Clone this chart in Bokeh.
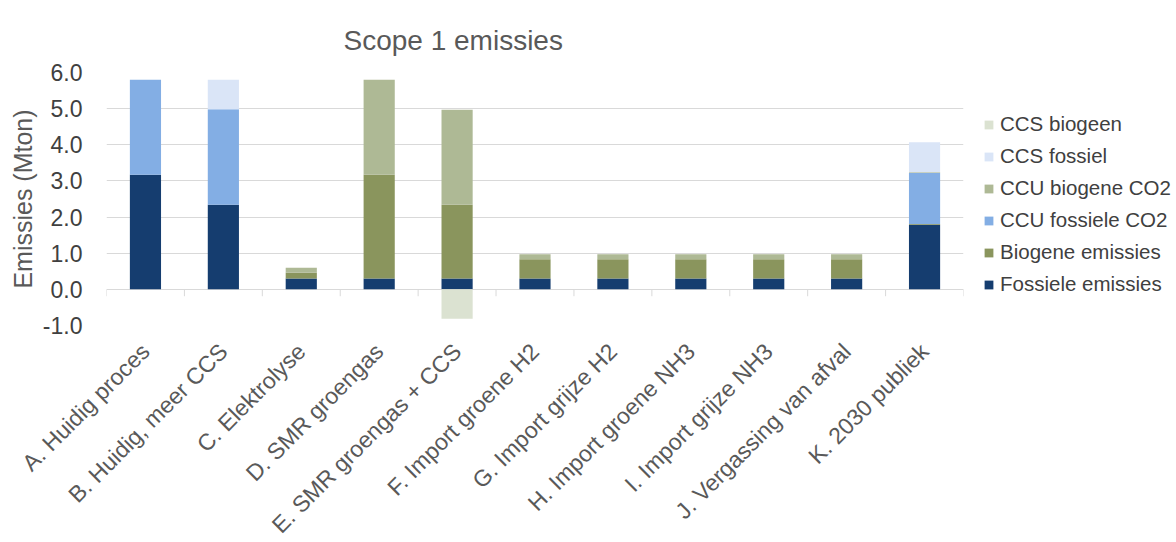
import math
from bokeh.plotting import figure
from bokeh.models import (ColumnDataSource, FactorRange, Range1d, Legend, LegendItem,
                          PrintfTickFormatter, SingleIntervalTicker)
from bokeh.transform import dodge
from bokeh.embed import file_html
from bokeh.resources import INLINE

categories = ["A. Huidig proces", "B. Huidig, meer CCS", "C. Elektrolyse", "D. SMR groengas",
              "E. SMR groengas + CCS", "F. Import groene H2", "G. Import grijze H2",
              "H. Import groene NH3", "I. Import grijze NH3", "J. Vergassing van afval",
              "K. 2030 publiek"]
fossiele_emissies = [3.17, 2.34, 0.30, 0.30, 0.30, 0.30, 0.30, 0.30, 0.30, 0.30, 1.79]
biogene_emissies = [0.00, 0.00, 0.16, 2.87, 2.04, 0.53, 0.53, 0.53, 0.53, 0.53, 0.02]
ccu_fossiele_co2 = [2.63, 2.64, 0.00, 0.00, 0.00, 0.00, 0.00, 0.00, 0.00, 0.00, 1.41]
ccu_biogene_co2 = [0.00, 0.00, 0.14, 2.63, 2.63, 0.14, 0.14, 0.14, 0.14, 0.14, 0.02]
ccs_fossiel = [0.00, 0.82, 0.00, 0.00, 0.00, 0.00, 0.00, 0.00, 0.00, 0.00, 0.83]
ccs_biogeen = [0.00, 0.00, 0.00, 0.00, -0.81, 0.00, 0.00, 0.00, 0.00, 0.00, 0.00]

series_names = ["Fossiele emissies", "Biogene emissies", "CCU fossiele CO2",
                "CCU biogene CO2", "CCS fossiel", "CCS biogeen"]
series_values = [fossiele_emissies, biogene_emissies, ccu_fossiele_co2,
                 ccu_biogene_co2, ccs_fossiel, ccs_biogeen]
series_colors = ["#153D6F", "#8A955D", "#83AEE4", "#AEB995", "#DAE5F7", "#DBE2D1"]

FONT = "Liberation Sans"

p = figure(x_range=FactorRange(*categories), y_range=Range1d(-1, 6),
           frame_width=857, frame_height=253,
           min_border_left=106, min_border_right=207, min_border_top=72, min_border_bottom=217,
           output_backend="svg", toolbar_location=None, title="Scope 1 emissies")
p.outline_line_color = None
p.background_fill_color = "white"
p.border_fill_color = "white"
p.xgrid.grid_line_color = None
p.ygrid.grid_line_color = "#D9D9D9"
p.ygrid.grid_line_width = 1

n = len(categories)
pos = [0.0] * n
neg = [0.0] * n
renderers = []
for name, vals, color in zip(series_names, series_values, series_colors):
    bottom, top = [], []
    for i, v in enumerate(vals):
        if v >= 0:
            bottom.append(pos[i]); pos[i] += v; top.append(pos[i])
        else:
            top.append(neg[i]); neg[i] += v; bottom.append(neg[i])
    src = ColumnDataSource(dict(x=categories, bottom=bottom, top=top))
    r = p.vbar(x="x", bottom="bottom", top="top", width=0.4, source=src,
               fill_color=color, line_color=None)
    renderers.append((name, r))

# category boundary tick marks on the zero line
tick_src = ColumnDataSource(dict(x=categories, y0=[0] * n, y1=[-0.19] * n))
p.segment(x0=dodge("x", -0.5, range=p.x_range), x1=dodge("x", -0.5, range=p.x_range),
          y0="y0", y1="y1", source=tick_src, line_color="#D9D9D9", line_width=1)
last_src = ColumnDataSource(dict(x=categories[-1:], y0=[0], y1=[-0.19]))
p.segment(x0=dodge("x", 0.5, range=p.x_range), x1=dodge("x", 0.5, range=p.x_range),
          y0="y0", y1="y1", source=last_src, line_color="#D9D9D9", line_width=1)

# y axis
p.yaxis.ticker = SingleIntervalTicker(interval=1)
p.yaxis.formatter = PrintfTickFormatter(format="%.1f")
p.yaxis.axis_line_color = None
p.yaxis.major_tick_line_color = None
p.yaxis.minor_tick_line_color = None
p.yaxis.major_tick_out = 0
p.yaxis.minor_tick_out = 0
p.yaxis.major_label_text_font = FONT
p.yaxis.major_label_text_font_size = "23px"
p.yaxis.major_label_text_color = "#404040"
p.yaxis.major_label_standoff = 24
p.yaxis.axis_label = "Emissies (Mton)"
p.yaxis.axis_label_text_font = FONT
p.yaxis.axis_label_text_font_size = "25px"
p.yaxis.axis_label_text_font_style = "normal"
p.yaxis.axis_label_text_color = "#595959"
p.yaxis.axis_label_standoff = 3

# x axis
p.xaxis.major_label_orientation = math.pi / 4
p.xaxis.axis_line_color = None
p.xaxis.major_tick_line_color = None
p.xaxis.minor_tick_line_color = None
p.xaxis.major_tick_out = 0
p.xaxis.minor_tick_out = 0
p.xaxis.major_label_text_font = FONT
p.xaxis.major_label_text_font_size = "23px"
p.xaxis.major_label_text_color = "#595959"
p.xaxis.major_label_standoff = 22

# title
p.title.align = "left"
p.title.offset = 237
p.title.vertical_align = "top"
p.title.text_font = FONT
p.title.text_font_size = "28px"
p.title.text_font_style = "normal"
p.title.text_color = "#595959"
p.title.standoff = 29

legend = Legend(items=[LegendItem(label=nm, renderers=[r]) for nm, r in reversed(renderers)],
                location=(20, 29), orientation="vertical",
                label_text_font=FONT, label_text_font_size="20.5px", label_text_color="#404040",
                glyph_width=11, glyph_height=11, label_standoff=6, label_height=20,
                spacing=8, padding=0, margin=0,
                border_line_color=None, background_fill_alpha=0)
p.add_layout(legend, "right")

open("out.html", "w").write(file_html(p, INLINE))
